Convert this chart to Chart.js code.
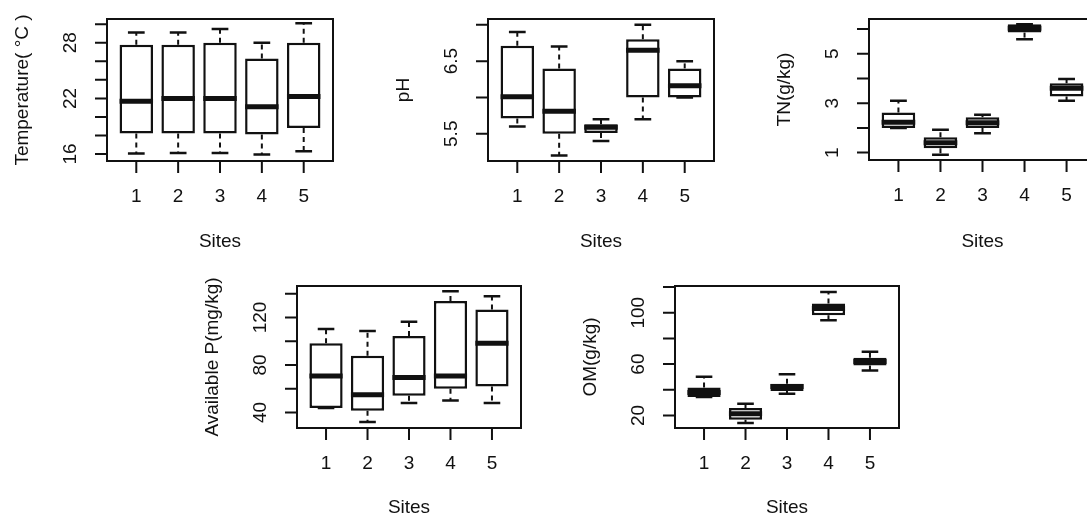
<!DOCTYPE html>
<html>
<head>
<meta charset="utf-8">
<script src="https://cdn.jsdelivr.net/npm/chart.js@4.4.1/dist/chart.umd.min.js"></script>
<style>
html, body { margin: 0; padding: 0; background: #fff; }
#wrap { position: relative; width: 1087px; height: 519px; overflow: hidden; background: #fff; }
canvas { position: absolute; }
</style>
</head>
<body>
<div id="wrap">
  <canvas id="c_temp" width="360" height="260" style="left:0px;top:0px"></canvas>
  <canvas id="c_ph" width="360" height="260" style="left:360px;top:0px"></canvas>
  <canvas id="c_tn" width="400" height="260" style="left:720px;top:0px"></canvas>
  <canvas id="c_ap" width="380" height="259" style="left:180px;top:260px"></canvas>
  <canvas id="c_om" width="380" height="259" style="left:560px;top:260px"></canvas>
</div>
<script>
// sites on the x axis
var sites = ['1', '2', '3', '4', '5'];

// Temperature
var tempLow  = [16.05, 16.1, 16.1, 15.95, 16.3];
var tempQ1   = [18.2, 18.2, 18.2, 18.1, 18.8];
var tempMed  = [21.7, 22.0, 22.0, 21.1, 22.2];
var tempQ3   = [27.8, 27.8, 28.0, 26.3, 28.0];
var tempHigh = [29.1, 29.1, 29.5, 28.0, 30.1];
var tempTicks = [16, 18, 20, 22, 24, 26, 28, 30];
var tempTickLabels = ['16', '', '', '22', '', '', '28', ''];

// pH
var phLow  = [5.60, 5.20, 5.40, 5.70, 6.00];
var phQ1   = [5.71, 5.50, 5.51, 6.00, 6.00];
var phMed  = [6.01, 5.81, 5.59, 6.65, 6.16];
var phQ3   = [6.71, 6.40, 5.63, 6.80, 6.40];
var phHigh = [6.90, 6.70, 5.70, 7.00, 6.50];
var phTicks = [5.5, 6.0, 6.5, 7.0];
var phTickLabels = ['5.5', '', '6.5', ''];

// TN
var tnLow  = [2.0, 0.91, 1.78, 5.59, 3.10];
var tnQ1   = [2.0, 1.18, 2.0, 5.86, 3.27];
var tnMed  = [2.23, 1.40, 2.21, 6.04, 3.61];
var tnQ3   = [2.62, 1.62, 2.43, 6.20, 3.81];
var tnHigh = [3.10, 1.92, 2.53, 6.20, 3.98];
var tnTicks = [1, 2, 3, 4, 5, 6];
var tnTickLabels = ['1', '', '3', '', '5', ''];

// Available P
var apLow  = [43.7, 32.0, 47.9, 50.1, 47.9];
var apQ1   = [43.7, 41.4, 54.0, 59.9, 61.8];
var apMed  = [70.8, 54.8, 69.4, 70.8, 98.2];
var apQ3   = [98.2, 87.8, 104.3, 133.9, 126.7];
var apHigh = [110.2, 108.5, 116.3, 142.0, 137.9];
var apTicks = [40, 60, 80, 100, 120, 140];
var apTickLabels = ['40', '', '80', '', '120', ''];

// OM
var omLow  = [34.3, 14.1, 36.8, 94.2, 54.9];
var omQ1   = [34.3, 16.7, 39.1, 98.1, 58.8];
var omMed  = [37.8, 21.3, 42.5, 103.3, 61.9];
var omQ3   = [41.7, 25.7, 44.6, 107.1, 65.0];
var omHigh = [50.2, 29.1, 52.1, 116.1, 69.6];
var omTicks = [20, 40, 60, 80, 100, 120];
var omTickLabels = ['20', '', '60', '', '100', ''];

var ink = '#111';
var fnt = '19px "Liberation Sans", Arial, sans-serif';

function dibujar_panel(id, p)
{
    return new Chart(document.getElementById(id), {
        type: 'bar',
        data: {
            datasets: [{
                data: sites.map(function (s, i) { return { x: i + 1, y: [p.q1[i], p.q3[i]] }; }),
                backgroundColor: '#fff',
                borderColor: ink,
                borderWidth: 2.5,
                borderSkipped: false,
                categoryPercentage: 1,
                barPercentage: 0.8
            }]
        },
        options: {
            responsive: false,
            animation: false,
            devicePixelRatio: 1,
            layout: { padding: p.pad },
            plugins: { legend: { display: false }, tooltip: { enabled: false } },
            scales: {
                x: {
                    type: 'linear', display: false, offset: false, min: 0.3, max: 5.7,
                    afterBuildTicks: function (axis) {
                        axis.ticks = sites.map(function (s, i) { return { value: i + 1 }; });
                    }
                },
                y: { type: 'linear', display: false, min: p.ymin, max: p.ymax }
            }
        },
        plugins: [{
            id: 'rbox',
            beforeDatasetsDraw: function (chart) {
                var ctx = chart.ctx, xs = chart.scales.x, ys = chart.scales.y;
                ctx.save();
                ctx.strokeStyle = ink;
                sites.forEach(function (s, i) {
                    var cx = xs.getPixelForValue(i + 1);
                    var hw = xs.getPixelForValue(i + 1.2) - cx;
                    ctx.lineWidth = 2;
                    ctx.setLineDash([5, 4]);
                    ctx.beginPath();
                    ctx.moveTo(cx, ys.getPixelForValue(p.q3[i]));
                    ctx.lineTo(cx, ys.getPixelForValue(p.high[i]));
                    ctx.moveTo(cx, ys.getPixelForValue(p.q1[i]));
                    ctx.lineTo(cx, ys.getPixelForValue(p.low[i]));
                    ctx.stroke();
                    ctx.setLineDash([]);
                    ctx.lineWidth = 2.5;
                    ctx.beginPath();
                    ctx.moveTo(cx - hw, ys.getPixelForValue(p.high[i]));
                    ctx.lineTo(cx + hw, ys.getPixelForValue(p.high[i]));
                    ctx.moveTo(cx - hw, ys.getPixelForValue(p.low[i]));
                    ctx.lineTo(cx + hw, ys.getPixelForValue(p.low[i]));
                    ctx.stroke();
                });
                ctx.restore();
            },
            afterDatasetsDraw: function (chart) {
                var ctx = chart.ctx, a = chart.chartArea, xs = chart.scales.x, ys = chart.scales.y;
                ctx.save();
                ctx.strokeStyle = ink;
                ctx.fillStyle = ink;
                // medians
                ctx.lineWidth = 5;
                sites.forEach(function (s, i) {
                    var py = ys.getPixelForValue(p.med[i]);
                    ctx.beginPath();
                    ctx.moveTo(xs.getPixelForValue(i + 0.6), py);
                    ctx.lineTo(xs.getPixelForValue(i + 1.4), py);
                    ctx.stroke();
                });
                // frame
                ctx.lineWidth = 2;
                ctx.strokeRect(a.left, a.top, a.right - a.left, a.bottom - a.top);
                // y axis
                ctx.beginPath();
                ctx.moveTo(a.left, ys.getPixelForValue(p.ticks[0]));
                ctx.lineTo(a.left, ys.getPixelForValue(p.ticks[p.ticks.length - 1]));
                p.ticks.forEach(function (t) {
                    var py = ys.getPixelForValue(t);
                    ctx.moveTo(a.left, py);
                    ctx.lineTo(a.left - 12, py);
                });
                // x axis
                ctx.moveTo(xs.getPixelForValue(1), a.bottom);
                ctx.lineTo(xs.getPixelForValue(sites.length), a.bottom);
                sites.forEach(function (s, i) {
                    var px = xs.getPixelForValue(i + 1);
                    ctx.moveTo(px, a.bottom);
                    ctx.lineTo(px, a.bottom + 12);
                });
                ctx.stroke();

                ctx.font = fnt;
                ctx.textAlign = 'center';
                ctx.textBaseline = 'middle';
                sites.forEach(function (s, i) {
                    ctx.fillText(s, xs.getPixelForValue(i + 1), a.bottom + 36);
                });
                ctx.fillText('Sites', (a.left + a.right) / 2, a.bottom + p.subOff);
                p.ticks.forEach(function (t, k) {
                    if (!p.tickLabels[k]) return;
                    ctx.save();
                    ctx.translate(a.left - 36, ys.getPixelForValue(t));
                    ctx.rotate(-Math.PI / 2);
                    ctx.fillText(p.tickLabels[k], 0, 0);
                    ctx.restore();
                });
                ctx.save();
                ctx.translate(a.left - 84, (a.top + a.bottom) / 2);
                ctx.rotate(-Math.PI / 2);
                ctx.fillText(p.title, 0, 0);
                ctx.restore();
                ctx.restore();
            }
        }]
    });
}

dibujar_panel('c_temp', {
    low: tempLow, q1: tempQ1, med: tempMed, q3: tempQ3, high: tempHigh,
    ticks: tempTicks, tickLabels: tempTickLabels, title: 'Temperature( \u00B0C )',
    ymin: 15.24, ymax: 30.57, subOff: 81,
    pad: { left: 107, top: 19, right: 27, bottom: 99 }
});
dibujar_panel('c_ph', {
    low: phLow, q1: phQ1, med: phMed, q3: phQ3, high: phHigh,
    ticks: phTicks, tickLabels: phTickLabels, title: 'pH',
    ymin: 5.125, ymax: 7.08, subOff: 81,
    pad: { left: 128, top: 19, right: 6, bottom: 99 }
});
dibujar_panel('c_tn', {
    low: tnLow, q1: tnQ1, med: tnMed, q3: tnQ3, high: tnHigh,
    ticks: tnTicks, tickLabels: tnTickLabels, title: 'TN(g/kg)',
    ymin: 0.70, ymax: 6.41, subOff: 82,
    pad: { left: 149, top: 19, right: 24, bottom: 100 }
});
dibujar_panel('c_ap', {
    low: apLow, q1: apQ1, med: apMed, q3: apQ3, high: apHigh,
    ticks: apTicks, tickLabels: apTickLabels, title: 'Available P(mg/kg)',
    ymin: 26.9, ymax: 146.5, subOff: 80,
    pad: { left: 117, top: 26, right: 39, bottom: 91 }
});
dibujar_panel('c_om', {
    low: omLow, q1: omQ1, med: omMed, q3: omQ3, high: omHigh,
    ticks: omTicks, tickLabels: omTickLabels, title: 'OM(g/kg)',
    ymin: 10.2, ymax: 120.8, subOff: 80,
    pad: { left: 115, top: 26, right: 41, bottom: 91 }
});
</script>
</body>
</html>
